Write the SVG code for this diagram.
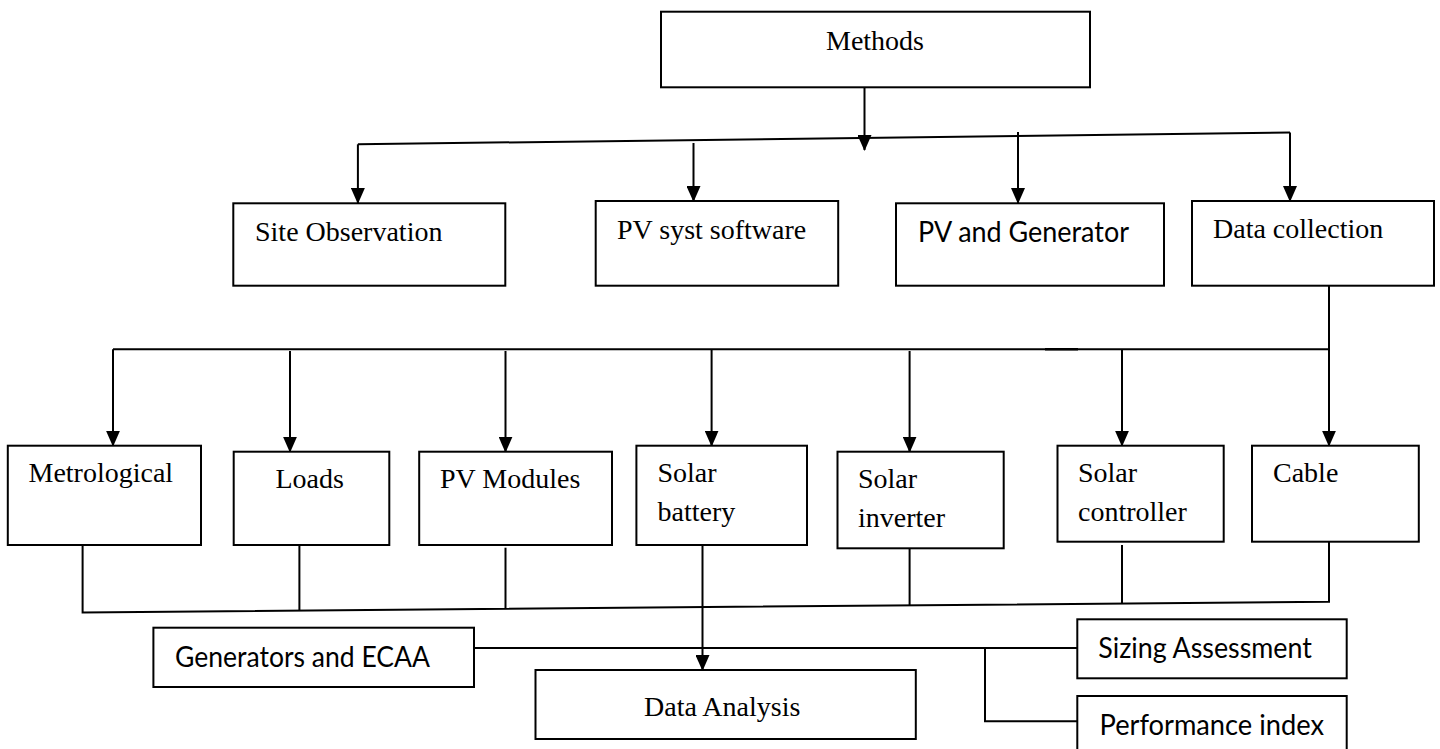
<svg xmlns="http://www.w3.org/2000/svg" width="1440" height="749" viewBox="0 0 1440 749">
<style>
.box{fill:#fff;stroke:#000;stroke-width:2}
.ln{fill:none;stroke:#000;stroke-width:2}
.arr{fill:none;stroke:#000;stroke-width:2;marker-end:url(#ah)}
.t{font-family:"Liberation Serif","Times New Roman",serif;font-size:28px;fill:#000}
.c{font-family:Lato,"Liberation Sans",sans-serif;font-size:28px;fill:#000}
</style>
<defs>
<marker id="ah" markerUnits="userSpaceOnUse" markerWidth="16" markerHeight="14" viewBox="0 0 16 14" refX="15" refY="7" orient="auto">
<path d="M0,0 L16,7 L0,14 Z" fill="#000"/>
</marker>
</defs>
<rect width="1440" height="749" fill="#fff"/>
<g id="connectors">
<line class="arr" x1="864.5" y1="87" x2="864.5" y2="150"/>
<line class="ln" x1="357.9" y1="144.3" x2="1290" y2="132.5"/>
<line class="arr" x1="357.9" y1="144.3" x2="357.9" y2="203"/>
<line class="arr" x1="693.5" y1="143" x2="693.5" y2="201"/>
<line class="arr" x1="1018" y1="132" x2="1018" y2="203"/>
<line class="arr" x1="1290" y1="132.5" x2="1290" y2="201"/>
<line class="arr" x1="1329" y1="286" x2="1329" y2="445.7"/>
<line class="ln" x1="113" y1="349.3" x2="1329" y2="349.3"/>
<line class="ln" x1="1045" y1="349.3" x2="1078" y2="349.3" style="stroke-width:2.6"/>
<line class="arr" x1="113" y1="349.3" x2="113" y2="445.7"/>
<line class="arr" x1="290" y1="351" x2="290" y2="451.7"/>
<line class="arr" x1="505.5" y1="351" x2="505.5" y2="451.7"/>
<line class="arr" x1="711.6" y1="349.3" x2="711.6" y2="445.7"/>
<line class="arr" x1="909.6" y1="351" x2="909.6" y2="451.7"/>
<line class="arr" x1="1122" y1="349.3" x2="1122" y2="445.7"/>
<path class="ln" d="M82.6,545 V612.5 L1329,601.7 V541.7"/>
<line class="ln" x1="299.4" y1="545" x2="299.4" y2="610.6"/>
<line class="ln" x1="505.5" y1="547.7" x2="505.5" y2="608.8"/>
<line class="ln" x1="909.6" y1="548.3" x2="909.6" y2="605.3"/>
<line class="ln" x1="1122" y1="545" x2="1122" y2="603.5"/>
<line class="arr" x1="702.5" y1="545" x2="702.5" y2="670"/>
<line class="ln" x1="474" y1="648" x2="1077" y2="648"/>
<path class="ln" d="M985,648 V721.3 H1077"/>
</g>
<g id="methods"><rect class="box" x="661" y="11.7" width="429" height="75.6"/><text class="t" x="826" y="50">Methods</text></g>
<g id="site-observation"><rect class="box" x="233.3" y="203.3" width="272" height="82.4"/><text class="t" x="255" y="240.7">Site Observation</text></g>
<g id="pv-syst"><rect class="box" x="595.7" y="201" width="242.5" height="84.7"/><text class="t" x="617" y="239">PV syst software</text></g>
<g id="pv-generator"><rect class="box" x="896" y="203.3" width="268" height="82.4"/><text class="c" x="918" y="241.7" textLength="211" lengthAdjust="spacingAndGlyphs">PV and Generator</text></g>
<g id="data-collection"><rect class="box" x="1192" y="201" width="242" height="84.7"/><text class="t" x="1213" y="238.3">Data collection</text></g>
<g id="metrological"><rect class="box" x="7.8" y="445.7" width="193.2" height="99.3"/><text class="t" x="28.5" y="482.3">Metrological</text></g>
<g id="loads"><rect class="box" x="233.7" y="451.7" width="155.6" height="93.3"/><text class="t" x="275.5" y="488.3">Loads</text></g>
<g id="pv-modules"><rect class="box" x="419.2" y="451.7" width="192.8" height="93.3"/><text class="t" x="440" y="488.3">PV Modules</text></g>
<g id="solar-battery"><rect class="box" x="636.4" y="445.7" width="170.6" height="99.3"/><text class="t" x="657.5" y="482.3">Solar</text><text class="t" x="657.5" y="521">battery</text></g>
<g id="solar-inverter"><rect class="box" x="837.5" y="451.7" width="166.2" height="96.6"/><text class="t" x="858" y="488.3">Solar</text><text class="t" x="858" y="526.7">inverter</text></g>
<g id="solar-controller"><rect class="box" x="1057.5" y="445.7" width="166.2" height="96"/><text class="t" x="1078" y="482.3">Solar</text><text class="t" x="1078" y="521">controller</text></g>
<g id="cable"><rect class="box" x="1252" y="445.7" width="166.8" height="96"/><text class="t" x="1273" y="482.3">Cable</text></g>
<g id="generators-ecaa"><rect class="box" x="153.4" y="627.7" width="320.6" height="59.3"/><text class="c" x="175" y="666.7" textLength="255" lengthAdjust="spacingAndGlyphs">Generators and ECAA</text></g>
<g id="data-analysis"><rect class="box" x="535.5" y="670" width="380.3" height="69"/><text class="t" x="644" y="716">Data Analysis</text></g>
<g id="sizing-assessment"><rect class="box" x="1077.3" y="619.3" width="269.4" height="59"/><text class="c" x="1098.3" y="658.3" textLength="213.6" lengthAdjust="spacingAndGlyphs">Sizing Assessment</text></g>
<g id="performance-index"><rect class="box" x="1077.3" y="696" width="269.4" height="60"/><text class="c" x="1099.5" y="735" textLength="224.5" lengthAdjust="spacingAndGlyphs">Performance index</text></g>
</svg>
